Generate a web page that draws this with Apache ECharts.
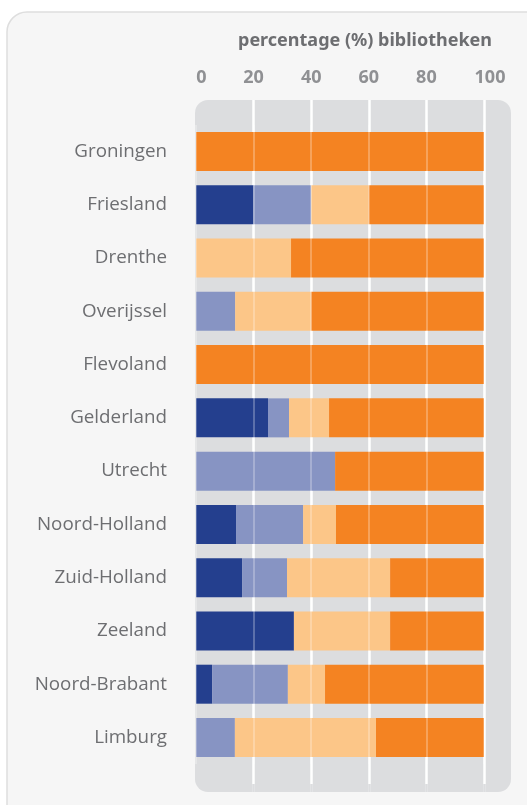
<!DOCTYPE html>
<html>
<head>
<meta charset="utf-8">
<script src="https://cdn.jsdelivr.net/npm/echarts@6/dist/echarts.min.js"></script>
<style>
html,body{margin:0;padding:0;background:#ffffff;}
#chart{width:527px;height:805px;}
</style>
</head>
<body>
<div id="chart"></div>
<script>
const categories = ['Groningen','Friesland','Drenthe','Overijssel','Flevoland','Gelderland','Utrecht','Noord-Holland','Zuid-Holland','Zeeland','Noord-Brabant','Limburg'];
const tickValues = [0, 20, 40, 60, 80, 100];
const titleText = 'percentage (%) bibliotheken';
const seriesNames = ['categorie 1','categorie 2','categorie 3','categorie 4'];
const darkBlue   = [0, 20, 0, 0,    0, 25.0, 0,    13.9, 16.0, 34.0, 5.6,  0];
const lightBlue  = [0, 20, 0, 13.6, 0, 7.3,  48.3, 23.3, 15.6, 0,    26.3, 13.5];
const lightOrange= [0, 20, 33.0, 26.4, 0, 13.9, 0, 11.4, 35.8, 33.4, 12.9, 49.0];
const orange     = [100, 40, 67.0, 60, 100, 53.8, 51.7, 51.4, 32.6, 32.6, 55.2, 37.5];

const colors = ['#243F8E','#8794C3','#FCC688','#F48322'];
const values = [darkBlue, lightBlue, lightOrange, orange];

const chart = echarts.init(document.getElementById('chart'), null, {renderer:'canvas'});
const gridL = 196, gridR = 43;

const option = {
  animation: false,
  backgroundColor: '#ffffff',
  title: {
    text: titleText,
    left: 233, top: 27,
    textStyle: {fontFamily: 'Noto Sans', fontSize: 18, fontWeight: 'bold', color: '#6D6E71'}
  },
  graphic: [
    {type:'rect', z:-20, silent:true, shape:{x:7, y:12, width:560, height:830, r:20},
     style:{fill:'#F6F6F6', stroke:'#DEDEDE', lineWidth:1.5}},
    {type:'rect', z:-10, silent:true, shape:{x:195, y:100, width:316, height:692, r:13},
     style:{fill:'#DCDDDF'}}
  ],
  grid: [
    {left: gridL, right: gridR, top: 100, bottom: 13},
    {left: gridL, right: gridR, top: 124.9, bottom: 40.9}
  ],
  xAxis: [
    {
      type:'value', gridIndex:0, position:'top', min:0, max:100, interval:20, z:1,
      axisLine:{show:false},
      axisTick:{show:true, length:8, customValues:[20,40,60,80,100], lineStyle:{color:'#DCDDDF', width:2.5}},
      splitLine:{show:true, lineStyle:{color:'#ffffff', width:2.5}},
      axisLabel:{
        show:true, margin:13, customValues: tickValues,
        fontFamily:'Noto Sans', fontSize:18, fontWeight:'bold', color:'#8F9093',
        formatter: function(v){ if (v===0) return '{l|0}'; if (v===100) return '{r|100}'; return String(v); },
        rich:{
          l:{fontFamily:'Noto Sans', fontSize:18, fontWeight:'bold', color:'#8F9093', padding:[0,0,0,11]},
          r:{fontFamily:'Noto Sans', fontSize:18, fontWeight:'bold', color:'#8F9093', padding:[0,0,0,12]}
        }
      }
    },
    {
      type:'value', gridIndex:1, min:0, max:100, interval:20, z:5,
      axisLine:{show:false}, axisTick:{show:false}, axisLabel:{show:false},
      splitLine:{show:true, lineStyle:{color:'rgba(255,255,255,0.35)', width:1.5}}
    }
  ],
  yAxis: [
    {type:'value', gridIndex:0, show:false},
    {
      type:'category', gridIndex:1, data:categories, inverse:true,
      axisLine:{show:false}, axisTick:{show:false},
      axisLabel:{margin:29, fontFamily:'Open Sans', fontSize:18.8, color:'#6D6E71'}
    }
  ],
  series: values.map((arr, i) => ({
    name: seriesNames[i], type:'bar', stack:'total', xAxisIndex:1, yAxisIndex:1,
    barWidth:39, itemStyle:{color:colors[i]}, data:arr, z:2
  }))
};
chart.setOption(option);
</script>
</body>
</html>
